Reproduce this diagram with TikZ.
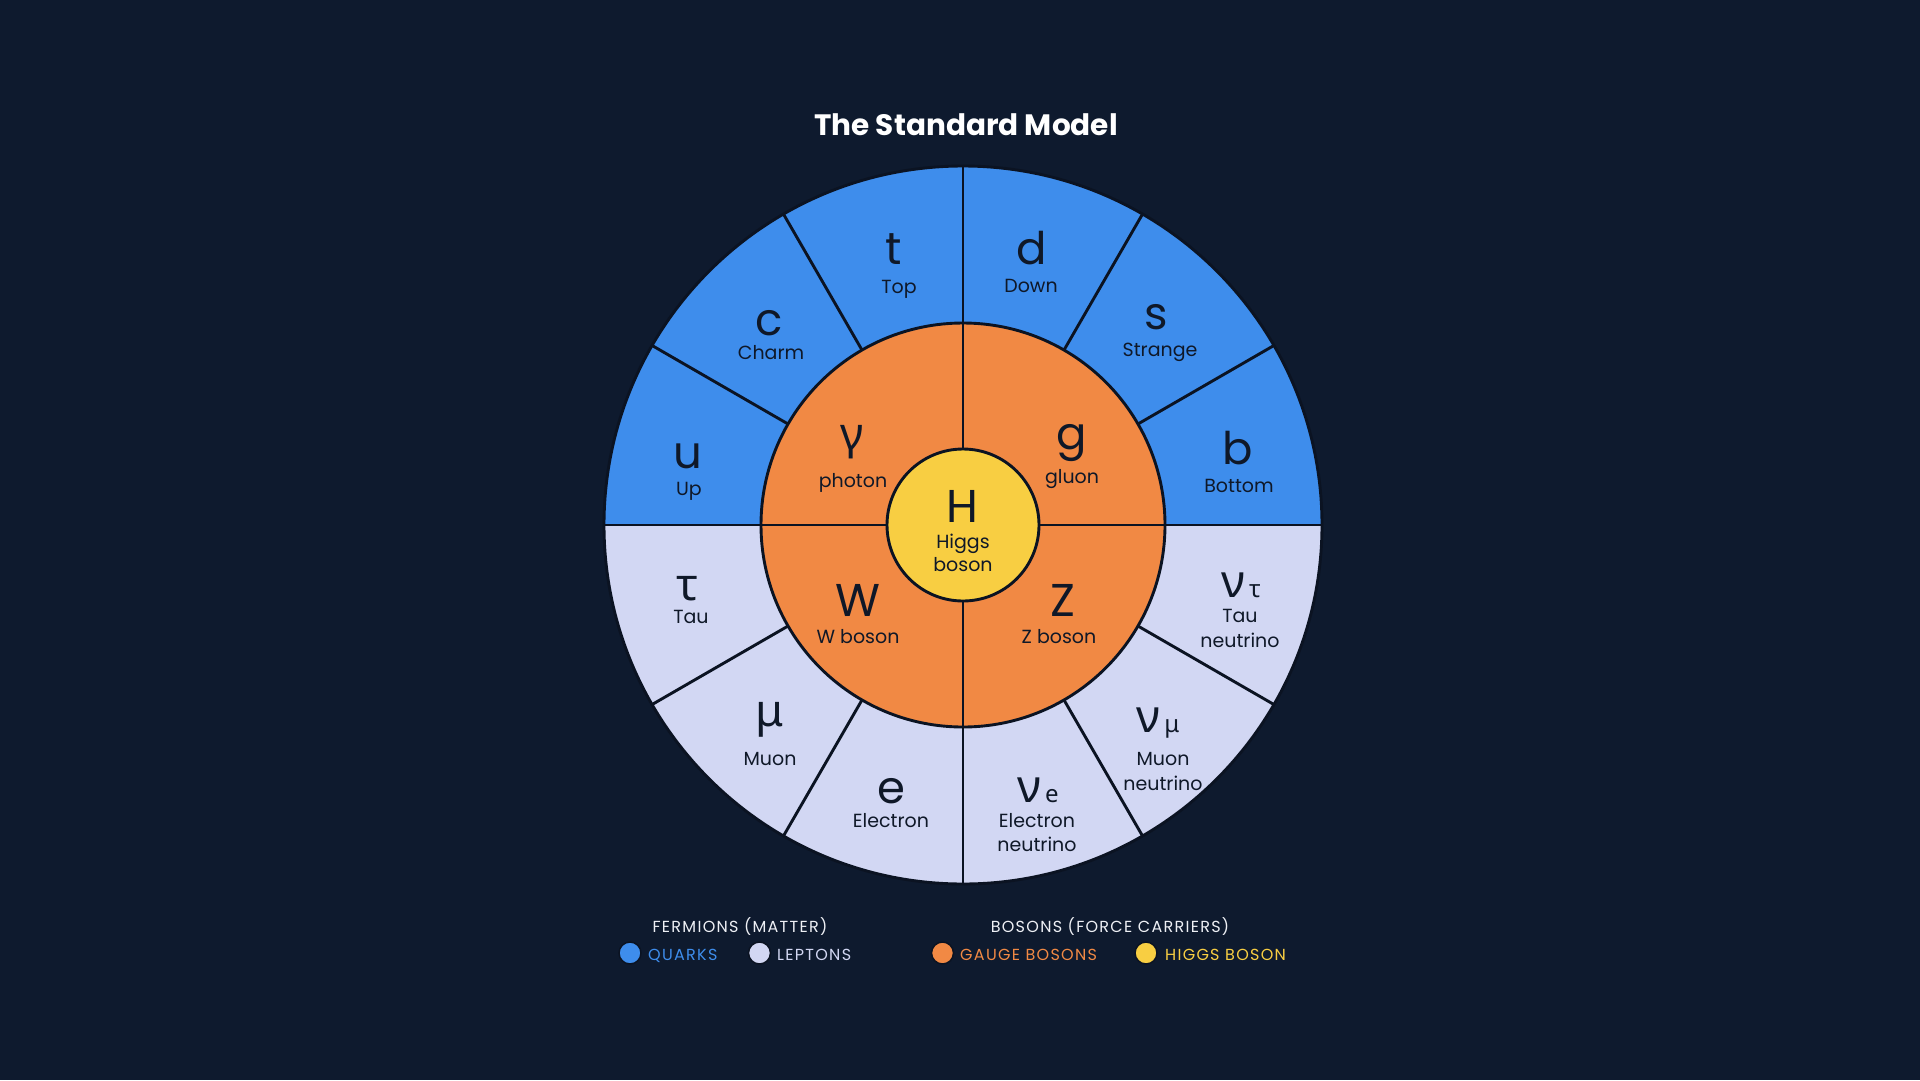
\documentclass[tikz,border=0pt]{standalone}
\usepackage{fontspec}
\setmainfont{Poppins}
\newfontfamily\gr{Noto Sans}
\definecolor{bg}{HTML}{0E1A2E}
\definecolor{quark}{HTML}{3E8DEC}
\definecolor{lepton}{HTML}{D2D7F3}
\definecolor{gauge}{HTML}{F18944}
\definecolor{higgs}{HTML}{F8CE42}
\definecolor{ink}{HTML}{0F1828}
\definecolor{edge}{HTML}{0B1322}
\definecolor{head}{HTML}{EEF0F5}
\begin{document}
\begin{tikzpicture}[x=1pt,y=1pt,
  edgeline/.style={draw=edge,line width=2.9},
  sym/.style={anchor=base,text=ink,inner sep=0,font=\fontsize{45}{45}\selectfont},
  gsym/.style={anchor=base,text=ink,inner sep=0,font=\gr\fontsize{45}{45}\selectfont},
  lbl/.style={anchor=base,text=ink,inner sep=0,font=\fontsize{19}{19}\selectfont},
  legh/.style={anchor=base,text=head,inner sep=0,font=\fontsize{16}{16}\selectfont\addfontfeatures{LetterSpace=8}},
  legt/.style={anchor=base west,inner sep=0,font=\fontsize{16}{16}\selectfont\addfontfeatures{LetterSpace=8}},
  dot/.style={circle,draw=edge,line width=1.5,minimum size=22,inner sep=0}]
\fill[bg] (0,0) rectangle (1920,-1080);
\useasboundingbox (0,0) rectangle (1920,-1080);
\begin{scope}[shift={(963,-525)}]
  \fill[quark] (0:359) arc[start angle=0,end angle=180,radius=359] -- cycle;
  \fill[lepton] (180:359) arc[start angle=180,end angle=360,radius=359] -- cycle;
  \foreach \a in {0,30,...,330} \draw[edgeline] (\a:200) -- (\a:359);
  \fill[gauge] (0,0) circle[radius=202];
  \foreach \a in {0,90,180,270} \draw[edgeline] (\a:70) -- (\a:202);
  \draw[edgeline] (0,0) circle[radius=202];
  \filldraw[fill=higgs,edgeline] (0,0) circle[radius=76];
  \draw[edgeline] (0,0) circle[radius=359];
\end{scope}
% title
\node[anchor=base,text=white,inner sep=0,font=\fontsize{29.5}{29.5}\selectfont\bfseries] (title) at (966,-135) {The Standard Model};
% quarks
\node[sym] (t) at (894,-264) {t};   \node[lbl] (tl) at (899,-293) {Top};
\node[sym] (d) at (1032,-264) {d};  \node[lbl] (dl) at (1031,-292) {Down};
\node[sym] (c) at (769,-335) {c};   \node[lbl] (cl) at (771,-359) {Charm};
\node[sym] (s) at (1156,-329) {s};  \node[lbl] (sl) at (1160,-356) {Strange};
\node[sym] (u) at (688,-468) {u};   \node[lbl] (ul) at (689,-495) {Up};
\node[sym] (b) at (1238,-464) {b};  \node[lbl] (bl) at (1239,-492) {Bottom};
% leptons
\node[gsym] (tau) at (688,-600) {τ};  \node[lbl] (taul) at (691,-623) {Tau};
\node[gsym] (mu) at (770,-726) {μ};   \node[lbl] (mul) at (770,-765) {Muon};
\node[sym] (e) at (891,-803) {e};     \node[lbl] (el) at (891,-827) {Electron};
\node[sym,font=\gr\fontsize{46}{46}\selectfont] (ne) at (1038,-802) {ν\fontsize{24}{24}\selectfont\,e};
\node[lbl] (nel) at (1037,-827) {Electron}; \node[lbl] (nel2) at (1037,-851) {neutrino};
\node[sym,font=\gr\fontsize{46}{46}\selectfont] (nm) at (1158,-732) {ν\fontsize{24}{24}\selectfont\,μ};
\node[lbl] (nml) at (1163,-765) {Muon}; \node[lbl] (nml2) at (1163,-790) {neutrino};
\node[sym,font=\gr\fontsize{46}{46}\selectfont] (nt) at (1241,-597) {ν\fontsize{24}{24}\selectfont\,τ};
\node[lbl] (ntl) at (1240,-622) {Tau}; \node[lbl] (ntl2) at (1240,-647) {neutrino};
% gauge bosons
\node[gsym] (gam) at (852,-449) {γ};  \node[lbl] (gaml) at (853,-487) {photon};
\node[sym] (g) at (1072,-449) {g};    \node[lbl] (gl) at (1072,-483) {gluon};
\node[sym,font=\fontsize{46}{46}\selectfont] (W) at (858,-616) {W};  \node[lbl] (Wl) at (858,-643) {W boson};
\node[sym,font=\fontsize{46}{46}\selectfont] (Z) at (1063,-616) {Z};  \node[lbl] (Zl) at (1059,-643) {Z boson};
% higgs
\node[sym,font=\fontsize{46}{46}\selectfont] (H) at (962,-522) {H};
\node[lbl] (Hl) at (963,-548) {Higgs}; \node[lbl] (Hl2) at (963,-571) {boson};
% legend
\node[legh] (fer) at (740,-932) {FERMIONS (MATTER)};
\node[legh] (bos) at (1110,-932) {BOSONS (FORCE CARRIERS)};
\node[dot,fill=quark] (dq) at (630,-953) {};
\node[legt,text=quark] (lq) at (648,-960) {QUARKS};
\node[dot,fill=lepton] (dlp) at (759.5,-953) {};
\node[legt,text=lepton] (ll) at (777,-960) {LEPTONS};
\node[dot,fill=gauge] (dg) at (942.5,-953) {};
\node[legt,text=gauge] (lg) at (960,-960) {GAUGE BOSONS};
\node[dot,fill=higgs] (dh) at (1146,-953) {};
\node[legt,text=higgs] (lh) at (1165,-960) {HIGGS BOSON};
\end{tikzpicture}
\end{document}
